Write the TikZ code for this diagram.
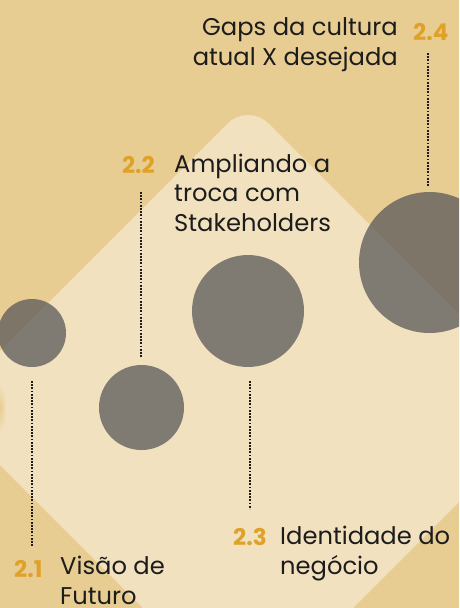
\documentclass[tikz,border=0pt]{standalone}
\usepackage{fontspec}
\setmainfont{Poppins}
\definecolor{bgdark}{RGB}{232,205,147}
\definecolor{bglight}{RGB}{241,225,190}
\definecolor{disc}{RGB}{90,90,90}
\definecolor{numorange}{RGB}{223,162,40}
\definecolor{txt}{RGB}{28,28,28}
\tikzset{
  dotline/.style={draw=txt, line width=1.8pt, dash pattern=on 1.8pt off 1.4pt},
  disk/.style={circle, fill=disc, fill opacity=0.75, draw=none, inner sep=0pt},
  label/.style={text=txt, font=\fontsize{24.2}{29.5}\selectfont, inner sep=0pt},
  num/.style={text=numorange, font=\fontsize{23}{24}\selectfont\bfseries, inner sep=0pt}
}
\begin{document}
\begin{tikzpicture}[x=1pt,y=-1pt]
\useasboundingbox (0,0) rectangle (459,608);
\clip (0,0) rectangle (459,608);
\fill[bgdark] (0,0) rectangle (459,608);
\fill[bglight, rounded corners=29pt] (248,103) -- (553,408) -- (248,713) -- (-57,408) -- cycle;
\shade[inner color=bgdark, outer color=bglight] (0,408) ellipse (6 and 24);
% discs
\node[disk, minimum size=68pt] (c1) at (32,333) {};
\node[disk, minimum size=85pt] (c2) at (141.5,407.5) {};
\node[disk, minimum size=112pt] (c3) at (248,311) {};
\node[disk, minimum size=141pt] (c4) at (429.5,262.5) {};
% dotted connectors
\coordinate (d1a) at (32,381); \coordinate (d1b) at (32,547);
\coordinate (d2a) at (141,192); \coordinate (d2b) at (141,358);
\coordinate (d3a) at (250,381); \coordinate (d3b) at (250,509);
\coordinate (d4a) at (428,53); \coordinate (d4b) at (428,187);
\draw[dotline] (d1a) -- (d1b);
\draw[dotline] (d2a) -- (d2b);
\draw[dotline] (d3a) -- (d3b);
\draw[dotline] (d4a) -- (d4b);
% labels (base anchor = baseline of last line)
\node[label, anchor=base east, align=right] (t4) at (398,65) {Gaps da cultura\\atual X desejada};
\node[num, anchor=base west] (n4) at (413,40) {2.4};
\node[num, anchor=base east] (n2) at (155,173) {2.2};
\node[label, anchor=base west, align=left] (t2) at (174,231) {Ampliando a\\troca com\\Stakeholders};
\node[num, anchor=base west] (n1) at (14,577) {2.1};
\node[label, anchor=base west, align=left] (t1) at (60,604) {Visão de\\Futuro};
\node[num, anchor=base west] (n3) at (233,545) {2.3};
\node[label, anchor=base west, align=left] (t3) at (280,574) {Identidade do\\negócio};
\end{tikzpicture}
\end{document}
